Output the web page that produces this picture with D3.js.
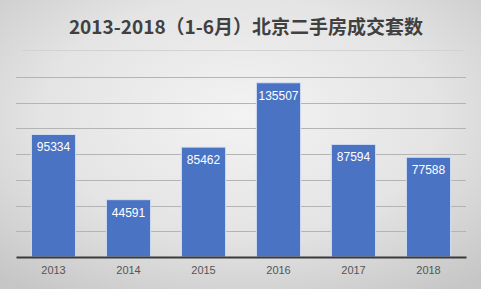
<!DOCTYPE html>
<html>
<head>
<meta charset="utf-8">
<script src="https://cdn.jsdelivr.net/npm/d3@7"></script>
<style>
  body { margin: 0; background: #fff; }
</style>
</head>
<body>
<div id="chart"></div>
<script>
// Chart data
const years = ["2013", "2014", "2015", "2016", "2017", "2018"];
const deals = [95334, 44591, 85462, 135507, 87594, 77588];
const gridTicks = [0, 20000, 40000, 60000, 80000, 100000, 120000, 140000];
const title = "2013-2018（1-6月）北京二手房成交套数";

const width = 481, height = 289;
const margin = {top: 77, right: 15, bottom: 32, left: 16};

const svg = d3.select("#chart").append("svg")
  .attr("width", width)
  .attr("height", height);

// Background gradient (lighter in the middle, grey toward the edges)
const defs = svg.append("defs");
const grad = defs.append("radialGradient")
  .attr("id", "bg")
  .attr("cx", "50%").attr("cy", "40%")
  .attr("r", "75%");
grad.append("stop").attr("offset", "0%").attr("stop-color", "#f3f3f3");
grad.append("stop").attr("offset", "55%").attr("stop-color", "#e4e4e4");
grad.append("stop").attr("offset", "100%").attr("stop-color", "#c6c6c6");

svg.append("rect")
  .attr("width", width)
  .attr("height", height)
  .attr("fill", "url(#bg)");

// Title
svg.append("text")
  .attr("x", 246)
  .attr("y", 34)
  .attr("text-anchor", "middle")
  .style("font-family", "'Noto Sans CJK SC', 'Liberation Sans', sans-serif")
  .style("font-size", "19px")
  .style("font-weight", "bold")
  .attr("fill", "#404040")
  .text(title);

// separator under the title
svg.append("line")
  .attr("x1", 22).attr("x2", 463)
  .attr("y1", 50.5).attr("y2", 50.5)
  .attr("stroke", "#d2d2d2")
  .attr("stroke-width", 1);

const innerW = width - margin.left - margin.right;
const innerH = height - margin.top - margin.bottom;

const g = svg.append("g")
  .attr("transform", "translate(" + margin.left + "," + margin.top + ")");

const x = d3.scaleBand()
  .domain(years)
  .range([0, innerW])
  .paddingInner(0.41)
  .paddingOuter(0.205);

const y = d3.scaleLinear()
  .domain([0, 140000])
  .range([innerH, 0]);

// Gridlines
g.selectAll(".grid")
  .data(gridTicks.slice(1))
  .enter()
  .append("line")
  .attr("class", "grid")
  .attr("x1", 0)
  .attr("x2", innerW)
  .attr("y1", d => Math.round(y(d)) + 0.5)
  .attr("y2", d => Math.round(y(d)) + 0.5)
  .attr("stroke", "#b4b4b4")
  .attr("stroke-width", 1);

// Bars
g.selectAll(".bar")
  .data(deals)
  .enter()
  .append("rect")
  .attr("class", "bar")
  .attr("x", (d, i) => x(years[i]))
  .attr("y", d => y(d))
  .attr("width", x.bandwidth())
  .attr("height", d => innerH - y(d))
  .attr("fill", "#4a73c4")
  .attr("stroke", "#d6e0f3")
  .attr("stroke-width", 1);

// Value labels inside the bars
g.selectAll(".value")
  .data(deals)
  .enter()
  .append("text")
  .attr("class", "value")
  .attr("x", (d, i) => x(years[i]) + x.bandwidth() / 2)
  .attr("y", d => y(d) + 17)
  .attr("text-anchor", "middle")
  .style("font-family", "'Liberation Sans', Arial, sans-serif")
  .style("font-size", "12px")
  .attr("fill", "#ffffff")
  .text(d => d);

// X axis
const xAxis = g.append("g")
  .attr("transform", "translate(0," + innerH + ")")
  .call(d3.axisBottom(x).tickSize(0).tickPadding(9));
xAxis.select(".domain")
  .attr("stroke", "#3a3a3a")
  .attr("stroke-width", 2);
xAxis.selectAll("text")
  .style("font-family", "'Liberation Sans', Arial, sans-serif")
  .style("font-size", "11px")
  .attr("fill", "#555555");
</script>
</body>
</html>
